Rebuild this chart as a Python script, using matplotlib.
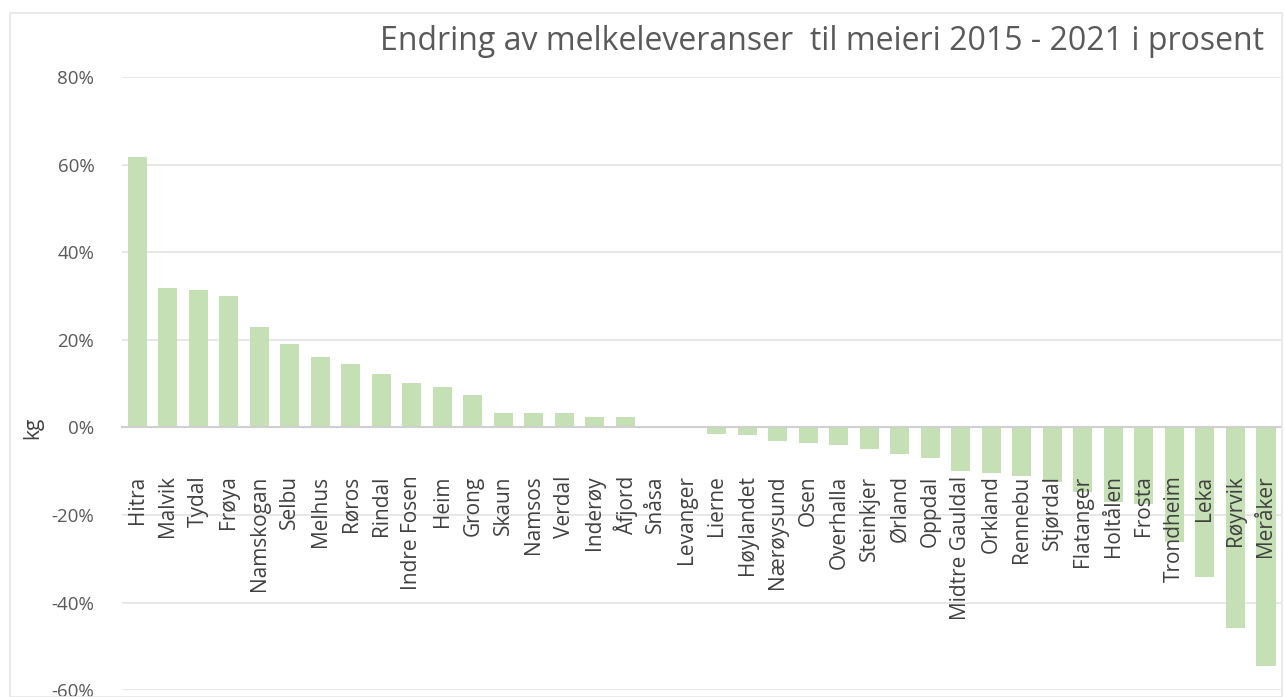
import matplotlib.pyplot as plt
import matplotlib.transforms as mtransforms
from matplotlib.patches import Rectangle
from matplotlib.ticker import FuncFormatter

plt.rcParams['font.family'] = ['Open Sans', 'DejaVu Sans']

kommuner = ["Hitra", "Malvik", "Tydal", "Frøya", "Namskogan", "Selbu", "Melhus",
            "Røros", "Rindal", "Indre Fosen", "Heim", "Grong", "Skaun", "Namsos",
            "Verdal", "Inderøy", "Åfjord", "Snåsa", "Levanger", "Lierne", "Høylandet",
            "Nærøysund", "Osen", "Overhalla", "Steinkjer", "Ørland", "Oppdal",
            "Midtre Gauldal", "Orkland", "Rennebu", "Stjørdal", "Flatanger", "Holtålen",
            "Frosta", "Trondheim", "Leka", "Røyrvik", "Meråker"]
endring = [61.7, 31.8, 31.3, 30.0, 22.9, 19.0, 16.0, 14.5, 12.2, 10.2, 9.2, 7.4,
           3.4, 3.4, 3.2, 2.3, 2.3, 0.0, 0.0, -1.4, -1.8, -3.0, -3.6, -4.1, -5.0,
           -6.0, -6.9, -10.0, -10.3, -11.0, -12.4, -14.7, -17.1, -17.5, -26.1,
           -34.1, -45.9, -54.5]

fig = plt.figure(figsize=(12.85, 6.97), dpi=100)
ax = fig.add_axes([0.095, 0.01, 0.902, 0.879])

x = list(range(len(kommuner)))
ax.bar(x, endring, width=0.63, color="#C5E0B4", zorder=2)

ax.set_xlim(-0.5, len(kommuner) - 0.5)
ax.set_ylim(-60, 80)
ax.set_yticks(range(-60, 81, 20))
ax.yaxis.set_major_formatter(FuncFormatter(lambda v, p: f"{v:.0f}%"))
ax.grid(axis="y", color="#E3E3E3", linewidth=1.2, zorder=0)
ax.set_axisbelow(True)

for s in ["top", "right", "left"]:
    ax.spines[s].set_visible(False)
ax.spines["bottom"].set_position(("data", 0))
ax.spines["bottom"].set_color("#D0D0D0")
ax.spines["bottom"].set_linewidth(1.5)
ax.spines["bottom"].set_zorder(3)

# category labels drawn above the bars, a bit under the zero line
ax.set_xticks(x)
ax.set_xticklabels([])
ax.tick_params(axis="x", length=0)
offset = mtransforms.offset_copy(ax.transData, fig=fig, x=0, y=-34.5, units="points")
for xi, name in zip(x, kommuner):
    ax.text(xi, 0, name, transform=offset, rotation=90, ha="center", va="top",
            fontsize=15, color="#404040", zorder=5)

ax.tick_params(axis="y", length=0, pad=20, labelsize=13.5, labelcolor="#595959")

ax.set_ylabel("kg", fontsize=15, color="#404040")
ax.yaxis.set_label_coords(-0.068, 60 / 140)

fig.text(0.984, 0.928, "Endring av melkeleveranser  til meieri 2015 - 2021 i prosent",
         ha="right", va="baseline", fontsize=23, color="#595959")

fig.patches.append(Rectangle((0.008, 0.0), 0.99, 0.982, transform=fig.transFigure,
                             fill=False, edgecolor="#E6E6E6", linewidth=1.2))

fig.savefig("out.png", dpi=100)
